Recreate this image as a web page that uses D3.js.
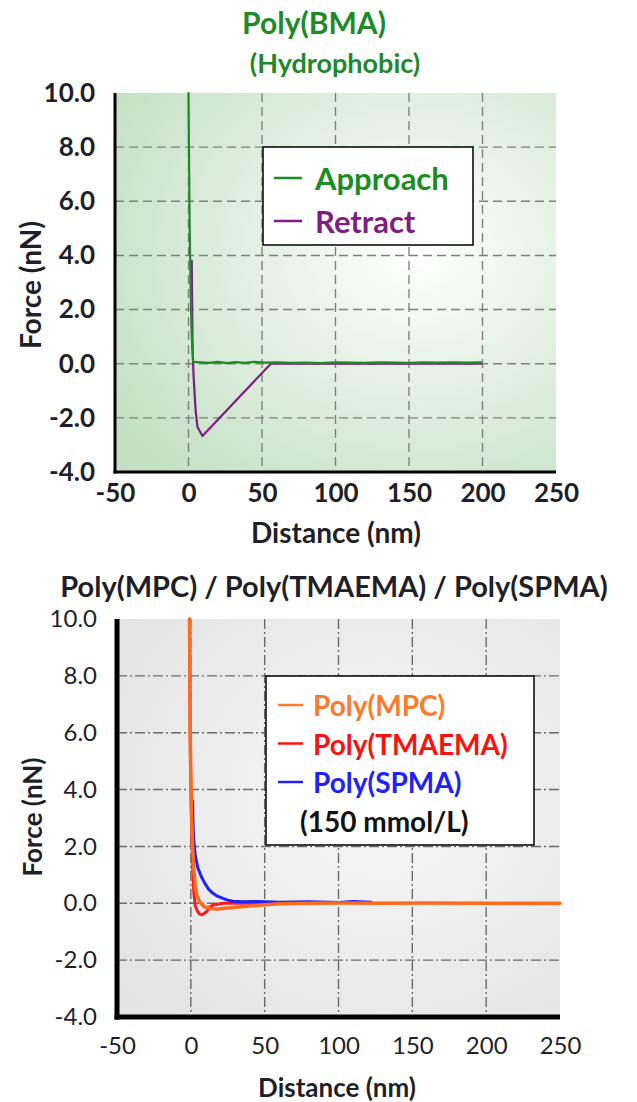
<!DOCTYPE html>
<html>
<head>
<meta charset="utf-8">
<script src="https://cdn.jsdelivr.net/npm/d3@7"></script>
<style>
  body { margin: 0; background: #fff; }
  svg { display: block; font-family: "Lato", "Open Sans", sans-serif; }
</style>
</head>
<body>
<svg id="chart" width="637" height="1102"></svg>
<script>
// ---- data ----
var xTicks = [-50, 0, 50, 100, 150, 200, 250];
var yTicks = [-4, -2, 0, 2, 4, 6, 8, 10];

// top panel: Poly(BMA)
var approachDist  = [0, 0.3, 0.8, 1.5, 2.2, 3.2, 8, 14, 20, 26, 32, 38, 45, 52, 60, 70, 80, 90, 100, 110, 120, 130, 140, 150, 160, 170, 180, 190, 199];
var approachForce = [10, 8, 5, 2.5, 1, 0.07, 0.05, 0.03, 0.07, 0.02, 0.06, 0.03, 0.07, 0.04, 0.05, 0.03, 0.04, 0.02, 0.05, 0.04, 0.03, 0.05, 0.04, 0.03, 0.05, 0.04, 0.05, 0.04, 0.05];
var retractDist   = [2.2, 2.5, 2.8, 3.5, 4.8, 6.1, 9.5, 56, 80, 120, 160, 199];
var retractForce  = [3.8, 2.0, 0.5, -0.5, -1.7, -2.34, -2.67, 0.0, 0.0, 0.0, 0.0, 0.0];

// bottom panel: Poly(MPC) / Poly(TMAEMA) / Poly(SPMA)
var tmaemaDist  = [-1, -0.5, 0, 0.7, 1.3, 2.0, 3.0, 4.5, 6, 7.5, 9, 11, 13, 16, 22, 40, 60];
var tmaemaForce = [10, 6, 4, 2.5, 1.2, 0.4, -0.1, -0.28, -0.38, -0.4, -0.36, -0.28, -0.12, -0.05, 0, 0, 0];
var spmaDist  = [1.2, 1.5, 2, 3, 4.7, 7, 9.5, 12, 15, 18, 21.7, 25, 28.5, 35, 45, 60, 80, 100, 110, 122];
var spmaForce = [3.6, 2.8, 2.2, 1.7, 1.25, 0.95, 0.7, 0.5, 0.35, 0.25, 0.17, 0.11, 0.07, 0.05, 0.06, 0.04, 0.05, 0.03, 0.06, 0.04];
var mpcDist  = [-0.8, -0.6, -0.4, 0, 0.5, 1.2, 2, 3, 4, 6, 9, 13, 18, 25, 32, 40, 50, 60, 80, 100, 130, 160, 200, 250];
var mpcForce = [10, 8, 6, 4.5, 3.0, 2.0, 1.2, 0.6, 0.3, 0.05, -0.12, -0.18, -0.2, -0.17, -0.13, -0.1, -0.05, -0.02, 0, 0.01, 0, 0.01, 0, 0];

var svg = d3.select("#chart");
var defs = svg.append("defs");

// plain hyphen for negatives, like the original
var loc = d3.formatLocale({ decimal: ".", thousands: ",", grouping: [3], currency: ["", ""], minus: "-" });

var g1 = defs.append("radialGradient").attr("id", "bgGreen")
  .attr("cx", "0.68").attr("cy", "0.42").attr("r", "0.8");
g1.append("stop").attr("offset", "0").attr("stop-color", "#ffffff");
g1.append("stop").attr("offset", "1").attr("stop-color", "#c4e0c4");

var g2 = defs.append("radialGradient").attr("id", "bgGray")
  .attr("cx", "0.6").attr("cy", "0.45").attr("r", "0.8");
g2.append("stop").attr("offset", "0").attr("stop-color", "#f8f8f8");
g2.append("stop").attr("offset", "1").attr("stop-color", "#e2e2e2");

function zip(a, b) { return a.map(function(d, i){ return [d, b[i]]; }); }

function drawPanel(p) {
  var x = d3.scaleLinear().domain([-50, 250]).range([p.left, p.right]);
  var y = d3.scaleLinear().domain([-4, 10]).range([p.bottom, p.top]);
  var g = svg.append("g");

  g.append("rect").attr("x", p.left).attr("y", p.top)
    .attr("width", p.right - p.left).attr("height", p.bottom - p.top)
    .attr("fill", p.bg);

  // grid
  g.selectAll(".vg").data(xTicks.filter(function(d){ return d > -50 && d < 250; }))
    .enter().append("line")
    .attr("x1", function(d){ return x(d); }).attr("x2", function(d){ return x(d); })
    .attr("y1", p.top).attr("y2", p.bottom)
    .attr("stroke", p.gridColor).attr("stroke-width", 1.4).attr("stroke-dasharray", p.dash);
  g.selectAll(".hg").data(yTicks.filter(function(d){ return d > -4 && d < 10; }))
    .enter().append("line")
    .attr("y1", function(d){ return y(d); }).attr("y2", function(d){ return y(d); })
    .attr("x1", p.left).attr("x2", p.right)
    .attr("stroke", p.gridColor).attr("stroke-width", 1.4).attr("stroke-dasharray", p.dash);

  // axes
  var ax = d3.axisBottom(x).tickValues(xTicks).tickSize(0).tickPadding(p.xPad).tickFormat(loc.format("d"));
  var ay = d3.axisLeft(y).tickValues(yTicks).tickSize(0).tickPadding(p.yPad).tickFormat(loc.format(".1f"));
  var gx = g.append("g").attr("transform", "translate(0," + p.bottom + ")").call(ax);
  var gy = g.append("g").attr("transform", "translate(" + p.left + ",0)").call(ay);
  [gx, gy].forEach(function(a){
    a.select(".domain").remove();
    a.selectAll("text").attr("font-size", p.tickSize).attr("font-weight", p.tickWeight)
      .attr("fill", "#1f1f2a").attr("font-family", "Lato");
  });

  // series
  var line = d3.line().x(function(d){ return x(d[0]); }).y(function(d){ return y(d[1]); });
  p.series.forEach(function(s){
    g.append("path").datum(zip(s.dist, s.force))
      .attr("d", line).attr("fill", "none")
      .attr("stroke", s.color).attr("stroke-width", s.width)
      .attr("stroke-linejoin", "round").attr("stroke-linecap", "round");
  });

  // axis lines
  g.append("line").attr("x1", p.left).attr("x2", p.left).attr("y1", p.top).attr("y2", p.bottom + p.axisW / 2)
    .attr("stroke", "#000").attr("stroke-width", p.axisW);
  g.append("line").attr("x1", p.left - p.axisW / 2).attr("x2", p.right).attr("y1", p.bottom).attr("y2", p.bottom)
    .attr("stroke", "#000").attr("stroke-width", p.axisW);

  // axis titles
  g.append("text").attr("x", p.xTitle[0]).attr("y", p.xTitle[1])
    .attr("text-anchor", "middle").attr("dominant-baseline", "central")
    .attr("font-size", p.titleSize).attr("font-weight", "bold").attr("fill", "#1f1f2a")
    .text("Distance (nm)");
  g.append("text").attr("transform", "translate(" + p.yTitle[0] + "," + p.yTitle[1] + ") rotate(-90)")
    .attr("text-anchor", "middle").attr("dominant-baseline", "central")
    .attr("font-size", p.titleSize).attr("font-weight", "bold").attr("fill", "#1f1f2a")
    .text("Force (nN)");

  // legend
  var L = p.legend;
  g.append("rect").attr("x", L.x).attr("y", L.y).attr("width", L.w).attr("height", L.h)
    .attr("fill", "#fff").attr("stroke", "#111").attr("stroke-width", 1.6);
  L.items.forEach(function(it, i){
    var cy = L.y + L.first + i * L.step;
    if (it.color) {
      g.append("line").attr("x1", L.x + L.lx1).attr("x2", L.x + L.lx2).attr("y1", cy).attr("y2", cy)
        .attr("stroke", it.color).attr("stroke-width", 2.5);
    }
    g.append("text").attr("x", L.x + (it.color ? L.tx : L.tx2)).attr("y", cy)
      .attr("dominant-baseline", "central").attr("font-size", L.size).attr("font-weight", "bold")
      .attr("fill", it.text || it.color).text(it.label);
  });
}

// titles
svg.append("text").attr("x", 314).attr("y", 22).attr("text-anchor", "middle").attr("dominant-baseline", "central")
  .attr("font-size", 30).attr("font-weight", "bold").attr("fill", "#1f8a2a").text("Poly(BMA)");
svg.append("text").attr("x", 335).attr("y", 62).attr("text-anchor", "middle").attr("dominant-baseline", "central")
  .attr("font-size", 27).attr("font-weight", "bold").attr("fill", "#1f8a2a").text("(Hydrophobic)");
svg.append("text").attr("x", 334).attr("y", 585).attr("text-anchor", "middle").attr("dominant-baseline", "central")
  .attr("font-size", 29).attr("font-weight", "bold").attr("fill", "#1f1f2a")
  .text("Poly(MPC) / Poly(TMAEMA) / Poly(SPMA)");

drawPanel({
  left: 115, right: 556, top: 93, bottom: 472,
  bg: "url(#bgGreen)", gridColor: "#808080", dash: "9,5",
  axisW: 3, xPad: 12, yPad: 20, tickSize: 26, tickWeight: "bold",
  titleSize: 28, xTitle: [336, 532], yTitle: [30, 285],
  series: [
    { dist: retractDist, force: retractForce, color: "#7d1f80", width: 2.2 },
    { dist: approachDist, force: approachForce, color: "#1b8c22", width: 2.2 }
  ],
  legend: { x: 263, y: 147, w: 210, h: 98, first: 31, step: 43, lx1: 11, lx2: 39, tx: 52, tx2: 52, size: 31,
    items: [ { label: "Approach", color: "#1b8c22" }, { label: "Retract", color: "#7d1f80" } ] }
});

drawPanel({
  left: 117, right: 560, top: 619, bottom: 1017,
  bg: "url(#bgGray)", gridColor: "#6a6a6a", dash: "10,3,2,3",
  axisW: 5, xPad: 20, yPad: 20, tickSize: 24, tickWeight: "normal",
  titleSize: 26, xTitle: [337, 1087], yTitle: [32, 817],
  series: [
    { dist: tmaemaDist, force: tmaemaForce, color: "#ff1a1a", width: 3 },
    { dist: spmaDist, force: spmaForce, color: "#1f1fff", width: 3 },
    { dist: mpcDist, force: mpcForce, color: "#ff6a1f", width: 3.5 }
  ],
  legend: { x: 266, y: 676, w: 268, h: 169, first: 29, step: 38.5, lx1: 12, lx2: 37, tx: 47, tx2: 34, size: 28,
    items: [ { label: "Poly(MPC)", color: "#ff7a2a" }, { label: "Poly(TMAEMA)", color: "#ff1010" },
             { label: "Poly(SPMA)", color: "#2020ff" }, { label: "(150 mmol/L)", color: null, text: "#111" } ] }
});
</script>
</body>
</html>
